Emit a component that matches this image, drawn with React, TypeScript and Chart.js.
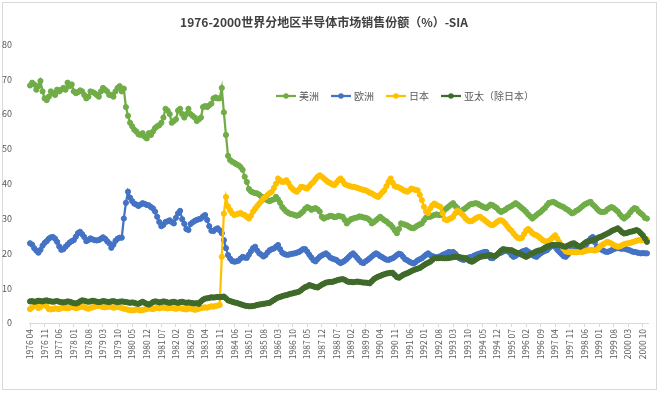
import React, { useEffect, useRef } from "react";
import { Chart, registerables } from "chart.js";

Chart.register(...registerables);

const TITLE = "1976-2000世界分地区半导体市场销售份额（%）-SIA";
const FONT = '"Noto Sans CJK SC", "Liberation Sans", sans-serif';

const START_YEAR = 1976;
const START_MONTH = 4;
const MONTH_COUNT = 297;
const LABEL_EVERY = 7;

const CATEGORIES: string[] = [];
for (let k = 0; k < MONTH_COUNT; k++) {
  const m = START_MONTH - 1 + k;
  const yr = START_YEAR + Math.floor(m / 12);
  const mo = (m % 12) + 1;
  CATEGORIES.push(`${yr} ${mo < 10 ? "0" + mo : mo}`);
}

const SERIES_NAMES = ["美洲", "欧洲", "日本", "亚太（除日本）"];
const SERIES_COLORS = ["#70AD47", "#4472C4", "#FFC000", "#3F6A2A"];

const AMERICAS = [
  68.2, 69, 68.5, 67, 68, 69.5, 66.5, 64.5, 64, 65,
  66.5, 66, 65.5, 67, 66.5, 67, 67.5, 67, 69, 68,
  68.5, 66.5, 66, 66.3, 66.8, 66.5, 65.5, 64.5, 65, 66.5,
  66.3, 66, 65.5, 65, 66.5, 67.5, 67, 66.5, 65.5, 65.5,
  65, 66.5, 67.5, 68, 66.5, 67.3, 62, 59.5, 57.5, 56.5,
  55.5, 55, 54.2, 54, 54.5, 53.5, 53, 54.5, 54, 55,
  56, 56.5, 56.8, 57.5, 59, 61.5, 61, 60, 57.5, 58,
  58.5, 61, 61.5, 60, 59, 60, 61.5, 60, 59.5, 59,
  58, 58.5, 59, 62, 62.3, 62, 62.5, 63, 64.5, 64.8,
  64.5, 64.5, 67.5, 60.5, 54, 48, 46.8, 46.3, 46, 45.6,
  45.3, 44.8, 44, 42, 40.5, 38.5, 37.8, 37.5, 37.3, 37.2,
  36.8, 36.3, 36, 35.5, 35.2, 35, 35.3, 35.5, 36.2, 35.5,
  34.5, 33.3, 32.6, 32, 31.6, 31.3, 31.2, 31, 30.8, 31,
  31.5, 32, 32.8, 33.3, 33, 32.5, 32.8, 33, 32.6, 32,
  30.5, 30, 30.3, 30.5, 30.8, 30.7, 30.4, 30.5, 30.8, 30.6,
  30.5, 29.6, 28.6, 29.3, 29.8, 30, 30.2, 30.3, 30.6, 30.5,
  30.3, 30.2, 30, 29.5, 28.6, 29, 29.5, 30, 30.5, 30,
  29.5, 29.2, 28.6, 28.2, 27.5, 26.6, 25.8, 27, 28.6, 28.4,
  28.2, 28, 27.6, 27.3, 27.2, 27.6, 28, 28.3, 28.6, 29.5,
  30.3, 30.5, 30.5, 30.8, 31, 31.2, 31, 31, 31.8, 32.5,
  33, 33.5, 34, 34.4, 33.6, 33, 31.9, 32.2, 32.6, 33,
  33.5, 34, 34.2, 34.3, 34.4, 34.2, 33.8, 33.5, 33.2, 33,
  33.5, 34, 33.8, 33.4, 33, 32.3, 31.9, 32.2, 32.5, 33,
  33.3, 33.6, 34, 34.4, 34, 33.5, 33, 32.5, 31.9, 31.2,
  30.6, 30, 30.5, 31, 31.5, 31.9, 32.5, 33, 33.8, 34.5,
  34.6, 34.8, 34.5, 34.1, 33.8, 33.5, 33.3, 32.8, 32.5, 32,
  31.5, 31.7, 32.2, 32.5, 33, 33.5, 34, 34.3, 34.6, 34.8,
  34, 33.5, 32.8, 32.2, 31.9, 31.9, 32, 32.6, 33, 33.3,
  33, 32.5, 32, 31.2, 30.5, 30, 30.5, 31, 31.8, 32.5,
  33, 32.8, 32, 31.5, 31, 30.2, 30,
];

const EUROPE = [
  22.9, 22.5, 21.5, 20.8, 20.2, 21, 22.2, 23, 23.5, 24.2,
  24.6, 24.7, 24.2, 23.3, 22, 21, 21.2, 21.9, 22.5, 23.1,
  23.5, 23.8, 24.8, 25.8, 26.2, 25.5, 24.7, 23.5, 23.8, 24.3,
  24, 23.8, 23.7, 23.8, 24.2, 24.6, 24.2, 23.5, 22.9, 21.6,
  22.5, 23.6, 24.2, 24.5, 24.5, 30, 34.5, 37.7, 36, 35,
  34.3, 34, 33.6, 34, 34.4, 34.2, 33.9, 33.8, 33.3, 32.9,
  32, 30.5, 29, 27.8, 28.2, 29, 29.2, 29.5, 29, 28.6,
  30.2, 31.5, 32.2, 29.8, 28.5, 27, 26.7, 28.4, 28.9, 29.3,
  29.6, 29.8, 30, 30.6, 31, 29.6, 27.8, 26.5, 26.4, 26.9,
  27.2, 26.6, 25.8, 23.8, 21.5, 19.5, 18.5, 17.8, 17.6, 17.7,
  17.9, 18.5, 19, 18.8, 18.7, 19.6, 20.6, 21.5, 21.9, 20.8,
  20, 19.6, 19.1, 19.5, 20.3, 20.9, 21.2, 21.4, 21.9, 22.4,
  21.2, 20.2, 19.8, 19.6, 19.6, 19.8, 19.9, 20, 20.2, 20.4,
  20.8, 21.2, 21.2, 20.5, 19.6, 18.8, 18, 17.7, 18.4, 19,
  19.4, 19.7, 20, 19.5, 18.8, 18.5, 18.3, 18.1, 17.6, 17.2,
  17.5, 17.9, 18.4, 19, 19.6, 20, 19.4, 18.7, 18, 17.4,
  17.2, 17.7, 18.1, 18.6, 19.1, 19.6, 20, 19.7, 19.2, 18.9,
  18.5, 18.2, 18.1, 18.4, 18.6, 19, 19.5, 19.9, 19.7, 19,
  18.3, 18, 17.6, 17.3, 17.1, 17.5, 18, 18.3, 18.6, 19.1,
  19.6, 20, 19.5, 19.2, 19, 18.8, 19, 19.2, 19.6, 19.8,
  20.1, 20.4, 20.2, 20.4, 19.9, 19.2, 18.6, 18.3, 18.1, 18.4,
  18.7, 18.9, 19, 19.3, 19.6, 19.8, 20, 20.2, 20.4, 20.4,
  19.6, 18.7, 18.6, 19.1, 19.6, 20, 20.2, 20.5, 20.7, 20.9,
  20.3, 19.5, 19, 19.3, 19.7, 20.1, 20.5, 20.7, 20.9, 20.5,
  20, 19.6, 19.2, 19, 19.5, 20, 20.4, 20.7, 20.9, 21.5,
  22, 22.4, 21.8, 21, 20.4, 19.8, 19.2, 19, 19.6, 20.4,
  21, 21.4, 21.2, 21, 20.9, 20.9, 21.7, 22.6, 23.5, 24.3,
  24.7, 23.2, 21.9, 21.5, 21.1, 20.8, 20.5, 20.4, 20.6, 20.9,
  21.2, 21.4, 21.5, 21.4, 21.3, 21.4, 21.2, 21, 20.8, 20.5,
  20.4, 20.3, 20.1, 20, 20.1, 20, 20,
];

const JAPAN = [
  4, 4.5, 5.2, 5, 4.3, 4.6, 5.2, 5.4, 4.8, 4,
  3.9, 4, 4.2, 4.1, 4, 4.3, 4.5, 4.3, 4.2, 4.4,
  4.6, 4.5, 4.3, 4.4, 4.6, 4.8, 4.5, 4.3, 4.1, 4.3,
  4.5, 4.7, 4.9, 5, 4.8, 4.6, 4.5, 4.6, 4.8, 4.6,
  4.4, 4.5, 4.7, 4.5, 4.3, 4.1, 4, 3.8, 3.7, 3.6,
  3.7, 3.9, 3.8, 3.6, 3.7, 3.9, 4, 4.2, 4.1, 4,
  4.2, 4.3, 4.2, 4.4, 4.5, 4.3, 4.2, 4.3, 4.4, 4.2,
  4.1, 4.2, 4.3, 4.1, 4, 3.9, 4.1, 4.2, 4, 3.8,
  3.9, 4.1, 4.3, 4.4, 4.5, 4.4, 4.6, 4.8, 4.7, 4.9,
  5, 5.2, 19, 31.4, 36.2, 33.5, 32.4, 31.5, 31, 31.2,
  31.4, 31.6, 31.2, 31, 30.5, 30, 30.8, 32, 32.8, 33.6,
  34.3, 35, 35.8, 36.2, 36.8, 37.3, 37.7, 38.8, 40, 41.5,
  41, 40.5, 40.6, 41, 40.2, 39.1, 38.5, 38, 37.7, 38.3,
  39.1, 39, 38.8, 38.6, 39.3, 40, 40.5, 41.3, 42, 42.4,
  42, 41.5, 41, 40.5, 40.2, 39.8, 39.6, 40.3, 41, 41.5,
  40.8, 39.9, 39.6, 39.4, 39.2, 39.1, 39, 38.8, 38.6, 38.4,
  38.2, 38.1, 37.8, 37.4, 37.2, 36.8, 36.5, 36.2, 36.8, 37.5,
  38.1, 39.3, 40.5, 41.5, 40.3, 39.3, 39.1, 38.9, 38.6, 38.2,
  37.9, 37.7, 38.1, 38.6, 38.4, 38.2, 38.1, 36.8, 35.3, 33.4,
  32, 31.6, 32.9, 33.8, 34.3, 33.9, 33.6, 33.3, 31.5, 29.8,
  29.5, 29.8, 30.1, 30.5, 31.5, 32.3, 32, 31.4, 30.8, 30,
  29.5, 29.2, 29.3, 29.7, 30.1, 30.4, 30.5, 30, 29.6, 29.1,
  28.6, 28.2, 28.1, 28.5, 29, 29.4, 29.5, 29.2, 28.6, 27.8,
  27, 26.5, 25.7, 25, 24.5, 24.3, 24.5, 25.5, 26.5, 27,
  26.5, 25.8, 25.4, 25.2, 24.8, 24.3, 23.8, 23.5, 23.3, 23.6,
  24.1, 24.7, 25.2, 24.2, 23.2, 22.3, 21.3, 20.6, 20.4, 20.4,
  20.5, 20.4, 20.3, 20.4, 20.5, 20.4, 20.6, 20.8, 20.9, 21,
  20.9, 20.8, 21, 21.6, 22.2, 22.6, 22.9, 23.3, 23.1, 22.8,
  22.4, 22.1, 21.9, 22, 22.3, 22.6, 22.8, 22.9, 23, 23.2,
  23.4, 23.6, 23.8, 23.7, 23.8, 23.9, 24,
];

const ASIA_PACIFIC = [
  6.2, 6.3, 6.1, 6.2, 6.4, 6.3, 6.2, 6.4, 6.5, 6.3,
  6.2, 6.1, 6.2, 6.3, 6.1, 6, 5.9, 6, 6.2, 6.1,
  5.9, 5.7, 5.6, 5.8, 6.2, 6.5, 6.4, 6.2, 6.1, 6.2,
  6.4, 6.3, 6.1, 6, 6.1, 6.3, 6.2, 6.1, 6, 6.2,
  6.3, 6.1, 6, 6.1, 6.2, 6.1, 6, 5.9, 5.8, 5.9,
  5.8, 5.6, 5.5, 5.8, 6.1, 5.8, 5.5, 5.3, 5.6, 6,
  6.2, 6.1, 5.9, 6, 6.2, 6.1, 5.9, 5.8, 6, 6.1,
  5.9, 5.8, 6, 6.1, 5.9, 5.8, 5.9, 5.8, 5.7, 5.6,
  5.7, 5.5, 6.2, 6.7, 7, 7.1, 7.2, 7.4, 7.3, 7.4,
  7.5, 7.4, 7.5, 7.6, 7.1, 6.5, 6.3, 6.1, 5.9, 5.8,
  5.6, 5.4, 5.2, 5, 4.9, 4.8, 4.8, 4.9, 5, 5.2,
  5.3, 5.4, 5.5, 5.6, 5.7, 5.8, 6.2, 6.6, 7, 7.3,
  7.5, 7.7, 7.9, 8, 8.2, 8.4, 8.5, 8.7, 8.8, 9,
  9.4, 9.9, 10.3, 10.5, 10.9, 10.7, 10.5, 10.3, 10.2, 10.6,
  11, 11.3, 11.6, 11.7, 11.8, 11.8, 12, 12.2, 12.4, 12.5,
  12.6, 12.4, 12, 11.8, 11.8, 11.7, 11.8, 11.9, 11.8, 11.7,
  11.6, 11.6, 11.5, 11.4, 12, 12.6, 13, 13.3, 13.5, 13.8,
  14, 14.2, 14.3, 14.4, 14.4, 13.8, 13.2, 13, 13.4, 13.8,
  14.1, 14.3, 14.6, 14.9, 15.2, 15.4, 15.6, 15.8, 16.2, 16.6,
  17, 17.3, 17.6, 18.1, 18.6, 18.6, 18.6, 18.7, 18.6, 18.6,
  18.6, 18.7, 18.8, 18.9, 19, 19, 18.9, 18.8, 18.7, 18.6,
  18.2, 17.8, 17.6, 17.9, 18.3, 18.7, 19, 19.1, 19.2, 19.3,
  19.4, 19.5, 19.3, 19.2, 19.6, 20.2, 20.8, 21.2, 21.1, 21,
  20.9, 20.9, 20.6, 20.3, 20.1, 20, 19.6, 19.3, 19, 19.3,
  19.7, 20, 20.3, 20.6, 20.8, 20.9, 21.2, 21.6, 21.9, 22.1,
  22.3, 22.4, 22.4, 22.4, 22.4, 22.2, 22, 21.9, 22.2, 22.5,
  22.8, 22.9, 22.5, 22.1, 21.9, 22.4, 22.9, 23.3, 23.5, 23.6,
  23.8, 24, 24.3, 24.6, 24.8, 25.1, 25.4, 25.7, 26, 26.4,
  26.7, 26.9, 27.2, 26.7, 26.1, 25.7, 25.8, 26, 26.2, 26.3,
  26.5, 26.7, 26.4, 25.8, 25.2, 24.3, 23.3,
];

const SERIES_VALUES = [AMERICAS, EUROPE, JAPAN, ASIA_PACIFIC];

const Y_MIN = 0;
const Y_MAX = 80;
const Y_STEP = 10;

const framePlugin = {
  id: "frame",
  beforeDraw(chart: any) {
    const { ctx, width, height } = chart;
    ctx.save();
    ctx.fillStyle = "#ffffff";
    ctx.fillRect(0, 0, width, height);
    ctx.strokeStyle = "#d9d9d9";
    ctx.lineWidth = 1;
    ctx.strokeRect(2.5, 2.5, width - 6, height - 6);
    ctx.restore();
  },
};

const insideLegendPlugin = {
  id: "insideLegend",
  afterDatasetsDraw(chart: any) {
    const { ctx } = chart;
    const ds = chart.data.datasets;
    ctx.save();
    ctx.font = `10px ${FONT}`;
    ctx.textBaseline = "middle";
    const lineLen = 20;
    const gap = 3;
    const spacing = 12;
    const widths = ds.map((d: any) => lineLen + gap + ctx.measureText(d.label).width);
    const total = widths.reduce((a: number, b: number) => a + b, 0) + spacing * (ds.length - 1);
    let x = 405 - total / 2;
    const y = 96;
    ds.forEach((d: any, i: number) => {
      ctx.strokeStyle = d.borderColor;
      ctx.lineWidth = 2.25;
      ctx.beginPath();
      ctx.moveTo(x, y);
      ctx.lineTo(x + lineLen, y);
      ctx.stroke();
      ctx.fillStyle = d.borderColor;
      ctx.beginPath();
      ctx.arc(x + lineLen / 2, y, 2.7, 0, Math.PI * 2);
      ctx.fill();
      ctx.fillStyle = "#595959";
      ctx.fillText(d.label, x + lineLen + gap, y);
      x += widths[i] + spacing;
    });
    ctx.restore();
  },
};

export default function App() {
  const canvasRef = useRef<HTMLCanvasElement | null>(null);

  useEffect(() => {
    document.body.style.margin = "0";
    const canvas = canvasRef.current;
    if (!canvas) return;
    const chart = new Chart(canvas, {
      type: "line",
      data: {
        labels: CATEGORIES,
        datasets: SERIES_NAMES.map((name, i) => ({
          label: name,
          data: SERIES_VALUES[i],
          borderColor: SERIES_COLORS[i],
          backgroundColor: SERIES_COLORS[i],
          pointBackgroundColor: SERIES_COLORS[i],
          pointBorderColor: SERIES_COLORS[i],
          borderWidth: 2.25,
          pointRadius: 2.6,
          pointBorderWidth: 1,
          tension: 0,
          fill: false,
          order: SERIES_NAMES.length - 1 - i,
        })),
      },
      options: {
        animation: false,
        responsive: false,
        maintainAspectRatio: false,
        layout: { padding: { left: 0, right: 12, top: 0, bottom: 0 } },
        plugins: {
          legend: { display: false },
          tooltip: { enabled: false },
          title: {
            display: true,
            text: TITLE,
            color: "#404040",
            font: { size: 12, weight: "bold", family: FONT },
            padding: { top: 15, bottom: 15 },
          },
        },
        scales: {
          x: {
            type: "category",
            offset: true,
            grid: {
              display: true,
              drawOnChartArea: false,
              drawTicks: true,
              tickLength: 4,
              color: "#d9d9d9",
            },
            border: { display: true, color: "#d9d9d9" },
            ticks: {
              autoSkip: false,
              maxRotation: 90,
              minRotation: 90,
              padding: 2,
              color: "#595959",
              font: { size: 8.5, family: FONT },
              callback: (_v: any, idx: number) =>
                idx % LABEL_EVERY === 0 ? CATEGORIES[idx] : null,
            },
            afterFit: (s: any) => {
              s.height = 70;
            },
          },
          y: {
            min: Y_MIN,
            max: Y_MAX,
            ticks: {
              stepSize: Y_STEP,
              padding: 9,
              color: "#595959",
              font: { size: 9, family: FONT },
            },
            grid: { display: false },
            border: { display: false },
            afterFit: (s: any) => {
              s.width = 29;
            },
          },
        },
      },
      plugins: [framePlugin, insideLegendPlugin],
    } as any);
    return () => chart.destroy();
  }, []);

  return (
    <div style={{ width: 660, height: 393 }}>
      <canvas ref={canvasRef} width={660} height={393} style={{ display: "block" }} />
    </div>
  );
}
